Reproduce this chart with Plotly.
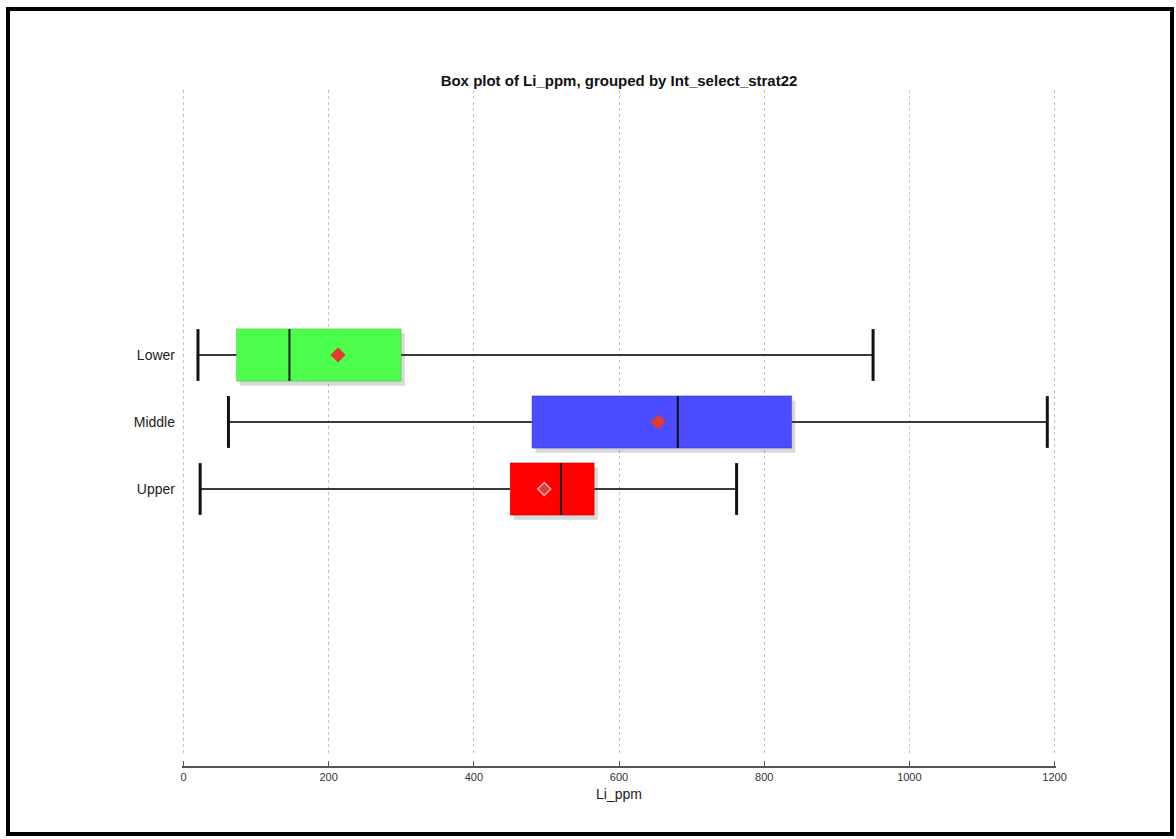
import plotly.graph_objects as go

# Li_ppm summary statistics per stratigraphic group
groups = ["Lower", "Middle", "Upper"]
whisker_low = [20, 62, 23]
q1 = [73, 480, 450]
median = [146, 681, 520]
q3 = [300, 838, 566]
whisker_high = [950, 1190, 762]
mean = [213, 654, 497]

box_colors = ["#4cff4c", "#4b4bff", "#ff0000"]
mean_edge = ["#e53a2f", "#e53a2f", "#ffb3b3"]

W, H = 1176, 839
ML, MR, MT, MB = 182, 120, 90, 72
plot_h = H - MT - MB
ypos = list(range(len(groups)))
box_w = 0.78

fig = go.Figure()

# whiskers: two segments per group, outside the box
wx, wy = [], []
for i, y in enumerate(ypos):
    wx += [whisker_low[i], q1[i], None, q3[i], whisker_high[i], None]
    wy += [y, y, None, y, y, None]
fig.add_trace(go.Scatter(x=wx, y=wy, mode="lines",
                         line=dict(color="#3a3a3a", width=2),
                         hoverinfo="skip", showlegend=False))

# soft shadows behind the boxes
fig.add_trace(go.Bar(
    y=[y + 0.07 for y in ypos], x=[b - a for a, b in zip(q1, q3)], base=[a + 5 for a in q1],
    orientation="h", width=box_w, marker=dict(color="rgba(0,0,0,0.15)", line=dict(width=0)),
    hoverinfo="skip", showlegend=False))

# interquartile boxes
fig.add_trace(go.Bar(
    y=ypos, x=[b - a for a, b in zip(q1, q3)], base=q1, orientation="h",
    width=box_w, marker=dict(color=box_colors, line=dict(color="rgba(0,0,0,0.25)", width=0.6)),
    hoverinfo="skip", showlegend=False))

# whisker caps
fig.add_trace(go.Scatter(
    x=whisker_low + whisker_high, y=ypos + ypos, mode="markers",
    marker=dict(symbol="line-ns", size=37, line=dict(color="#111111", width=3)),
    hoverinfo="skip", showlegend=False))

# medians
fig.add_trace(go.Scatter(
    x=median, y=ypos, mode="markers",
    marker=dict(symbol="line-ns", size=37, line=dict(color="#111111", width=2)),
    hoverinfo="skip", showlegend=False))

# means
fig.add_trace(go.Scatter(
    x=mean, y=ypos, mode="markers",
    marker=dict(symbol="diamond", size=10, color="#e53a2f",
                line=dict(color=mean_edge, width=1.5)),
    hoverinfo="skip", showlegend=False))

grid_bottom = 14 / plot_h

fig.update_layout(
    width=W, height=H,
    margin=dict(l=ML, r=MR, t=MT, b=MB),
    paper_bgcolor="white", plot_bgcolor="white",
    barmode="overlay",
    title=dict(text="<b>Box plot of Li_ppm, grouped by Int_select_strat22</b>",
               x=(ML + (W - ML - MR) / 2) / W, xanchor="center",
               y=1 - 81 / H, yanchor="middle",
               font=dict(family="Liberation Sans, Arial", size=15, color="#111111")),
    xaxis=dict(range=[-2, 1202], tickvals=[0, 200, 400, 600, 800, 1000, 1200],
               showgrid=True, gridcolor="#c4c4c4", griddash="dot", gridwidth=1,
               showline=True, linecolor="#555555", linewidth=2,
               ticks="inside", ticklen=5, tickcolor="#555555", tickwidth=1,
               zeroline=False, anchor="free", position=0,
               tickfont=dict(family="Liberation Sans Narrow, Arial Narrow, Liberation Sans",
                             size=11, color="#333333"),
               title=dict(text="Li_ppm", standoff=6,
                          font=dict(family="Liberation Sans Narrow, Arial Narrow, Liberation Sans",
                                    size=14, color="#222222"))),
    yaxis=dict(domain=[grid_bottom, 1], range=[5.94, -3.955],
               tickvals=ypos, ticktext=groups, showgrid=False, zeroline=False,
               showline=False, ticks="", ticklabelstandoff=6,
               tickfont=dict(family="Liberation Sans, Arial", size=14, color="#222222")),
)

# frame around the whole figure
def px_x(p):
    return (p - ML) / (W - ML - MR)

def px_y(p):
    return (H - MB - p) / plot_h

fig.add_shape(type="rect", xref="paper", yref="paper",
              x0=px_x(8), x1=px_x(1172), y0=px_y(9), y1=px_y(834),
              line=dict(color="#000000", width=4), layer="above")

fig.write_html("out.html")
